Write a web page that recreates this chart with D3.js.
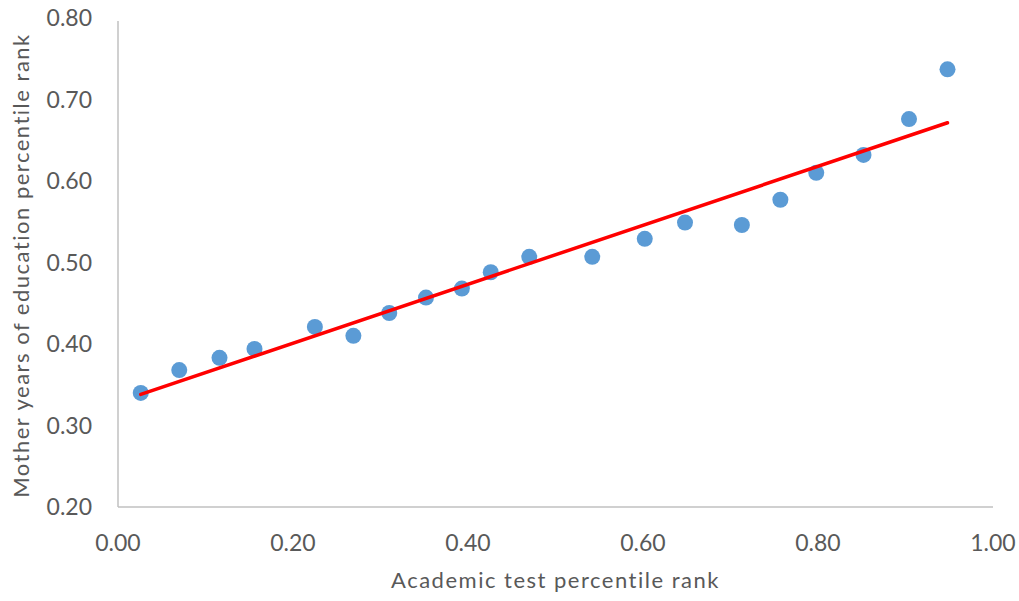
<!DOCTYPE html>
<html>
<head>
<meta charset="utf-8">
<script src="https://cdn.jsdelivr.net/npm/d3@7"></script>
<style>
  body { margin: 0; background: #fff; }
  svg text { font-family: Lato, "Open Sans", sans-serif; fill: #595959; }
</style>
</head>
<body>
<script>
// Werte
const testRank = [0.026, 0.070, 0.116, 0.156, 0.225, 0.269, 0.310, 0.352, 0.393, 0.426,
  0.470, 0.542, 0.602, 0.648, 0.713, 0.757, 0.798, 0.852, 0.904, 0.948];
const motherEdu = [0.340, 0.368, 0.383, 0.394, 0.421, 0.410, 0.438, 0.457, 0.468, 0.488,
  0.507, 0.507, 0.529, 0.549, 0.546, 0.577, 0.610, 0.632, 0.676, 0.737];
const xTicks = [0, 0.2, 0.4, 0.6, 0.8, 1.0];
const yTicks = [0.2, 0.3, 0.4, 0.5, 0.6, 0.7, 0.8];

const width = 1019;
const height = 601;

const x = d3.scaleLinear().domain([0, 1]).range([118, 993]);
const y = d3.scaleLinear().domain([0.2, 0.8]).range([507, 18]);

const svg = d3.select("body").append("svg")
  .attr("width", width)
  .attr("height", height);

// Achsen
svg.append("line")
  .attr("x1", x(0)).attr("x2", x(0))
  .attr("y1", y(0.8) + 3).attr("y2", y(0.2))
  .attr("stroke", "#c0c0c0").attr("stroke-width", 1.5);
svg.append("line")
  .attr("x1", x(0)).attr("x2", x(1))
  .attr("y1", y(0.2)).attr("y2", y(0.2))
  .attr("stroke", "#c0c0c0").attr("stroke-width", 1.5);

svg.selectAll(".ytick").data(yTicks).enter().append("text")
  .attr("class", "ytick")
  .attr("x", 92)
  .attr("y", (d) => y(d))
  .attr("dy", "0.35em")
  .attr("text-anchor", "end")
  .style("font-size", "23px")
  .text((d) => d3.format(".2f")(d));

svg.selectAll(".xtick").data(xTicks).enter().append("text")
  .attr("class", "xtick")
  .attr("x", (d) => x(d))
  .attr("y", 551)
  .attr("text-anchor", "middle")
  .style("font-size", "23px")
  .text((d) => d3.format(".2f")(d));

svg.append("text")
  .attr("x", (x(0) + x(1)) / 2)
  .attr("y", 588)
  .attr("text-anchor", "middle")
  .style("font-size", "22px")
  .style("letter-spacing", "1.5px")
  .text("Academic test percentile rank");

svg.append("text")
  .attr("transform", "translate(29," + (y(0.5) + 3) + ") rotate(-90)")
  .attr("text-anchor", "middle")
  .style("font-size", "22px")
  .style("letter-spacing", "1.5px")
  .text("Mother years of education percentile rank");

// Punkte
const points = testRank.map((d, i) => ({ x: d, y: motherEdu[i] }));

svg.selectAll(".dot").data(points).enter().append("circle")
  .attr("class", "dot")
  .attr("cx", (d) => x(d.x))
  .attr("cy", (d) => y(d.y))
  .attr("r", 8)
  .style("fill", "#5b9bd5");

// Lineare Trendlinie (kleinste Quadrate)
const mx = d3.mean(points, (d) => d.x);
const my = d3.mean(points, (d) => d.y);
const slope = d3.sum(points, (d) => (d.x - mx) * (d.y - my)) /
  d3.sum(points, (d) => (d.x - mx) * (d.x - mx));
const intercept = my - slope * mx;
const xExt = d3.extent(points, (d) => d.x);

svg.append("line")
  .attr("x1", x(xExt[0])).attr("y1", y(intercept + slope * xExt[0]))
  .attr("x2", x(xExt[1])).attr("y2", y(intercept + slope * xExt[1]))
  .attr("stroke", "#ff0000")
  .attr("stroke-width", 3.5)
  .attr("stroke-linecap", "round");
</script>
</body>
</html>
